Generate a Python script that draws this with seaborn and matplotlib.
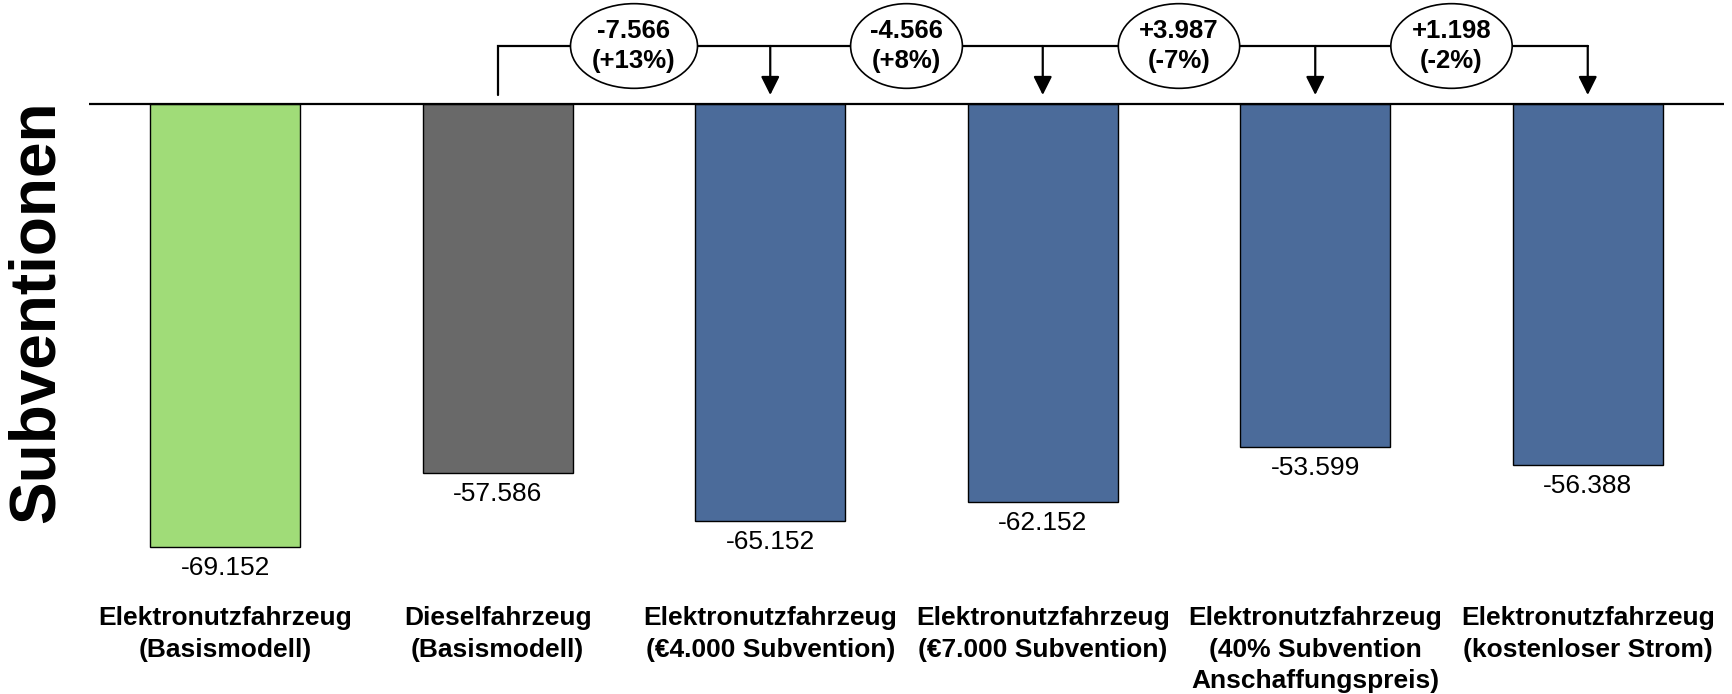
import matplotlib
matplotlib.use("Agg")
import matplotlib.pyplot as plt
import seaborn as sns
import pandas as pd

# Scenario names (x categories) and annual cost results in euros
categories = [
    "Elektronutzfahrzeug\n(Basismodell)",
    "Dieselfahrzeug\n(Basismodell)",
    "Elektronutzfahrzeug\n(€4.000 Subvention)",
    "Elektronutzfahrzeug\n(€7.000 Subvention)",
    "Elektronutzfahrzeug\n(40% Subvention\nAnschaffungspreis)",
    "Elektronutzfahrzeug\n(kostenloser Strom)",
]
values = [-69152, -57586, -65152, -62152, -53599, -56388]
bar_colors = ["#A0DC78", "#696969", "#4B6B9A", "#4B6B9A", "#4B6B9A", "#4B6B9A"]
reference_index = 1  # diesel vehicle is the comparison base
ylabel = "Subventionen"


def de_number(v, signed=False):
    # dot as thousands separator, e.g. -69.152
    s = f"{v:+,}" if signed else f"{v:,}"
    return s.replace(",", ".")


sns.set_theme(style="white")
plt.rcParams["font.family"] = ["Liberation Sans", "DejaVu Sans"]
plt.rcParams["text.color"] = "black"
plt.rcParams["xtick.color"] = "black"
plt.rcParams["xtick.labelcolor"] = "black"

W, H = 1732, 694
fig = plt.figure(figsize=(W / 100, H / 100), dpi=100)
ax = fig.add_axes([89 / W, 1 - 590 / H, (1724 - 89) / W, 590 / H])

df = pd.DataFrame({"cat": categories, "val": values})
sns.barplot(
    data=df, x="cat", y="val", hue="cat", palette=bar_colors, legend=False,
    width=0.55, edgecolor="black", linewidth=1.0, ax=ax, saturation=1,
)

unit_per_px = 1000 / 6.4  # data units per pixel on the value axis
ax.set_xlim(-0.5, len(categories) - 0.5)
ax.set_ylim(-486 * unit_per_px, 104 * unit_per_px)

for s in ax.spines.values():
    s.set_visible(False)
ax.axhline(0, color="black", lw=1.6, zorder=3)
ax.set_yticks([])
ax.set_xlabel("")
ax.set_ylabel("")
ax.tick_params(axis="x", length=0, pad=11.5)
ax.set_xticks(range(len(categories)))
ax.set_xticklabels(categories, fontsize=19, fontweight="bold", linespacing=1.4,
                   color="black")

# Value labels under each bar
for i, v in enumerate(values):
    ax.text(i, v - 9 * unit_per_px, de_number(v), ha="center", va="top",
            fontsize=19, color="black")

# Bracket comparing each scenario with the reference bar
y_conn = 58 * unit_per_px
y_tip = 9 * unit_per_px
last = len(values) - 1
ax.plot([reference_index, reference_index, last], [y_tip, y_conn, y_conn],
        color="black", lw=1.6, solid_joinstyle="miter", clip_on=False, zorder=4)
base = values[reference_index]
for i in range(reference_index + 1, len(values)):
    ax.annotate("", xy=(i, y_tip), xytext=(i, y_conn),
                arrowprops=dict(arrowstyle="-|>", color="black", lw=1.6,
                                mutation_scale=28, shrinkA=0, shrinkB=0),
                annotation_clip=False, zorder=4)
    diff = values[i] - base
    pct = (values[i] / base - 1) * 100
    label = f"{de_number(diff, signed=True)}\n({pct:+.0f}%)"
    ax.text((i - 1 + i) / 2, y_conn, label, ha="center", va="center",
            fontsize=18.5, fontweight="bold", linespacing=1.3, zorder=6,
            color="black",
            bbox=dict(boxstyle="ellipse,pad=0.12", fc="white", ec="black", lw=1.2))

fig.text(37 / W, 1 - 312 / H, ylabel, rotation=90, ha="center", va="center",
         fontsize=46, fontweight="bold", color="black")

fig.savefig("out.png", dpi=100)
